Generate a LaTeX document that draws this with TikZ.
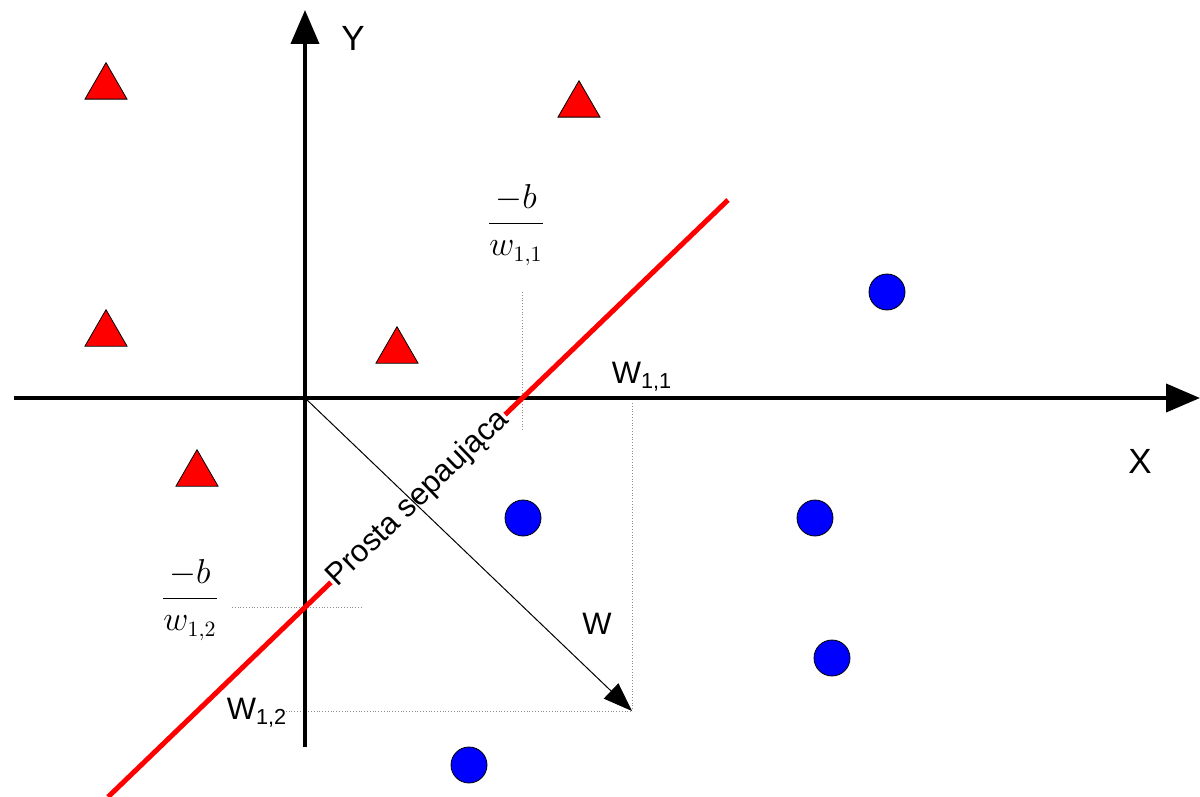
\documentclass[tikz,border=0pt]{standalone}
\usepackage[no-math]{fontspec}
\setmainfont{Liberation Sans}
\usetikzlibrary{arrows.meta}
\usetikzlibrary{shapes.geometric}
\newcommand{\ptri}[3]{%
  \node[tri] (#1) at (#2,#3) {};
}
\newcommand{\pdot}[3]{%
  \node[dot] (#1) at (#2,#3) {};
}

\begin{document}
\begin{tikzpicture}[x=0.5pt, y=-0.5pt,
  tri/.style={regular polygon, regular polygon sides=3, minimum size=24.3pt,
    inner sep=0pt, fill=red, draw=black, line width=0.4pt},
  dot/.style={circle, minimum size=18pt, inner sep=0pt, fill=blue,
    draw=black, line width=0.4pt},
  axis/.style={line width=2pt, -{Triangle[length=17pt, width=14pt]}},
  guide/.style={densely dotted, black!45, line width=0.4pt},
  lbl/.style={font=\fontsize{15.5}{18}\selectfont, inner sep=0pt},
  big/.style={font=\fontsize{17.5}{20}\selectfont, inner sep=0pt},
  frac/.style={font=\fontsize{16}{19}\selectfont, inner sep=0pt}]
  \useasboundingbox (0,0) rectangle (1200,797);

  \coordinate (xs) at (14,398);
  \coordinate (xe) at (1200,398);
  \coordinate (ys) at (305,747);
  \coordinate (ye) at (305,10);
  \coordinate (o) at (305,398);
  \coordinate (w) at (632,711);
  \coordinate (sa) at (108,797);
  \coordinate (sb) at (728,200);

  % dotted guides
  \coordinate (g1a) at (522,292);
  \coordinate (g1b) at (522,432);
  \coordinate (g2a) at (232,607);
  \coordinate (g2b) at (363,607);
  \coordinate (g3a) at (632,403);
  \coordinate (g4a) at (283,711);
  \draw[guide] (g1a) -- (g1b);
  \draw[guide] (g2a) -- (g2b);
  \draw[guide] (g3a) -- (w);
  \draw[guide] (g4a) -- (w);

  \draw[axis] (xs) -- (xe);
  \draw[axis] (ys) -- (ye);
  \node[big] (ylab) at (353,38) {Y};
  \node[big] (xlab) at (1140,461) {X};

  \draw[red, line width=2.5pt] (sa) -- node[sloped, lbl, fill=white, text=black, inner sep=0.5pt] (sep) {Prosta sepaująca} (sb);
  \draw[line width=0.5pt, -{Triangle[length=14.5pt, width=10.5pt]}] (o) -- (w);

  \node[lbl] (w11) at (642,377) {W\textsubscript{1,1}};
  \node[lbl] (w12) at (257,713) {W\textsubscript{1,2}};
  \node[lbl] (wlab) at (597,624) {W};
  \node[frac] (fa) at (516,225) {$\displaystyle\frac{-b}{w_{1,1}}$};
  \node[frac] (fb) at (190,600) {$\displaystyle\frac{-b}{w_{1,2}}$};

  \ptri{t1}{106}{87}
  \ptri{t2}{579}{105}
  \ptri{t3}{397}{351}
  \ptri{t4}{197}{474}
  \ptri{t5}{106}{334}

  \pdot{c1}{887}{292}
  \pdot{c2}{523}{518}
  \pdot{c3}{815}{518}
  \pdot{c4}{832}{658}
  \pdot{c5}{469}{765}
\end{tikzpicture}
\end{document}
